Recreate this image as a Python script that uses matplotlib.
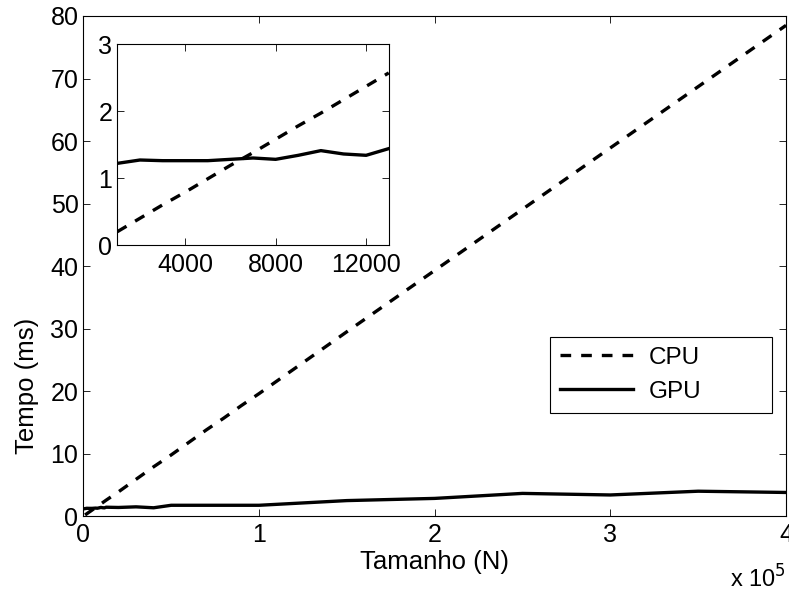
import matplotlib
matplotlib.use("Agg")
import matplotlib.pyplot as plt

plt.rcParams['font.family'] = ['Liberation Sans', 'DejaVu Sans']

# tamanhos do problema (N) e tempos medidos em ms
tamanhos = [1000, 2000, 3000, 4000, 5000, 6000, 7000, 8000, 9000, 10000,
            11000, 12000, 13000, 20000, 30000, 40000, 50000, 60000, 70000,
            80000, 90000, 100000, 150000, 200000, 250000, 300000, 350000, 400000]
tempo_cpu = [0.20, 0.40, 0.60, 0.79, 0.99, 1.19, 1.38, 1.58, 1.78, 1.97,
             2.17, 2.37, 2.57, 3.9, 5.9, 7.9, 9.8, 11.8, 13.8,
             15.7, 17.7, 19.6, 29.5, 39.3, 49.1, 58.9, 68.7, 78.5]
tempo_gpu = [1.22, 1.27, 1.26, 1.26, 1.26, 1.28, 1.30, 1.28, 1.34, 1.41,
             1.36, 1.34, 1.44, 1.40, 1.50, 1.35, 1.75, 1.75, 1.75,
             1.75, 1.75, 1.75, 2.5, 2.85, 3.65, 3.4, 4.0, 3.8]

fig = plt.figure(figsize=(7.89, 5.92), dpi=100)

# grafico principal
ax = fig.add_axes([0.1056, 0.128, 0.8906, 0.845])
ax.plot(tamanhos, tempo_cpu, 'k--', lw=2.4, dashes=(3.2, 3.0), label='CPU')
ax.plot(tamanhos, tempo_gpu, 'k-', lw=2.4, label='GPU')
ax.set_xlim(0, 400000)
ax.set_ylim(0, 80)
ax.set_xticks([0, 100000, 200000, 300000, 400000])
ax.set_xticklabels(['0', '1', '2', '3', '4'])
ax.set_yticks(range(0, 81, 10))
ax.tick_params(direction='in', top=True, right=True, labelsize=18, length=5, width=0.6)
ax.tick_params(axis='x', pad=5)
for s in ax.spines.values():
    s.set_linewidth(0.8)
ax.set_xlabel('Tamanho (N)', fontsize=18.5, labelpad=2)
ax.set_ylabel('Tempo (ms)', fontsize=18.5)
ax.yaxis.set_label_coords(-0.063, 0.26)
ax.text(1.0, -0.142, r'x 10$^5$', transform=ax.transAxes, ha='right', va='baseline', fontsize=17)

# legenda com caixa larga, alinhada a esquerda
leg = ax.legend(loc='lower left', bbox_to_anchor=(0.664, 0.206, 0.316, 0.15), mode='expand',
                fontsize=17.5, handlelength=3.0, handletextpad=0.66, fancybox=False,
                edgecolor='k', framealpha=1, borderpad=0.42, labelspacing=0.5, borderaxespad=0)
leg.get_frame().set_linewidth(0.8)

# detalhe para N pequeno
axi = fig.add_axes([0.1487, 0.586, 0.344, 0.3395])
axi.plot(tamanhos[:13], tempo_cpu[:13], 'k--', lw=2.4, dashes=(3.2, 3.0))
axi.plot(tamanhos[:13], tempo_gpu[:13], 'k-', lw=2.4)
axi.set_xlim(1000, 13000)
axi.set_ylim(0, 3)
axi.set_xticks([4000, 8000, 12000])
axi.set_yticks([0, 1, 2, 3])
axi.tick_params(direction='in', top=True, right=True, labelsize=18, length=5, width=0.6)
axi.tick_params(axis='x', pad=6)
for s in axi.spines.values():
    s.set_linewidth(0.8)

fig.savefig('out.png', dpi=100)
